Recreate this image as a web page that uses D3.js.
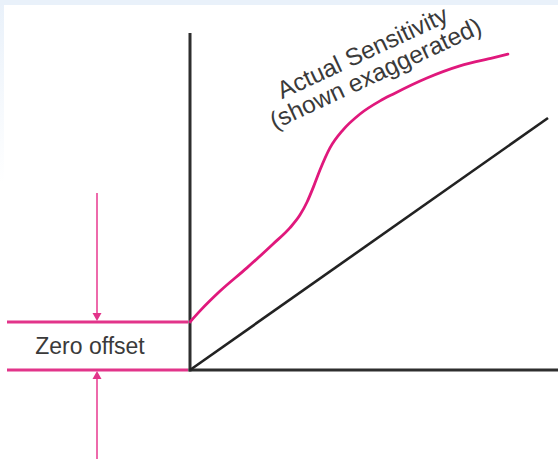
<!DOCTYPE html>
<html>
<head>
<script src="https://d3js.org/d3.v7.min.js"></script>
<style>
  body { margin: 0; background: #fff; }
  svg text { font-family: "Liberation Sans", Arial, sans-serif; fill: #3a3a3a; }
</style>
</head>
<body>
<div id="chart"></div>
<script>
// ---- data (abstract units, 0..100 on each axis) ----
var curveX = [0, 2.8, 8.4, 15.9, 23.2, 27.9, 30.7, 32.7, 34.6, 36.3, 39.1, 42.7, 47.5, 53.1, 56.7, 66.2, 75.4, 84.6, 88.8];
var curveY = [14.3, 17.6, 23.5, 30.4, 37.5, 42.3, 46.1, 50.0, 54.8, 59.5, 66.1, 71.4, 76.2, 80.1, 82.1, 86.9, 90.5, 92.9, 94.0];
var idealX = [0, 100];
var idealY = [0, 75];
var zeroOffset = 14.3;
var offsetLabel = "Zero offset";
var curveLabels = ["Actual Sensitivity", "(shown exaggerated)"];

var width = 558, height = 459;

var svg = d3.select("#chart").append("svg")
    .attr("width", width)
    .attr("height", height);

// light blue frame at top / left
var grad = svg.append("defs").append("linearGradient")
    .attr("id", "leftfade").attr("x1", 0).attr("y1", 0).attr("x2", 0).attr("y2", 1);
grad.append("stop").attr("offset", "0%").attr("stop-color", "#e9f1fa");
grad.append("stop").attr("offset", "40%").attr("stop-color", "#ffffff");
svg.append("rect").attr("x", 0).attr("y", 0).attr("width", 4).attr("height", height)
    .attr("fill", "url(#leftfade)");
svg.append("rect").attr("x", 0).attr("y", 0).attr("width", width).attr("height", 5)
    .attr("fill", "#e9f1fa");

var x = d3.scaleLinear().domain([0, 100]).range([190, 548]);
var y = d3.scaleLinear().domain([0, 100]).range([370, 34]);

////////// axes //////////
svg.append("line")
    .attr("x1", x(0)).attr("x2", x(0))
    .attr("y1", y(100.3)).attr("y2", y(0) + 1.5)
    .attr("stroke", "#2e2e2e").attr("stroke-width", 3);
svg.append("line")
    .attr("x1", x(0) - 1.5).attr("x2", width)
    .attr("y1", y(0)).attr("y2", y(0))
    .attr("stroke", "#2e2e2e").attr("stroke-width", 3);

// ideal sensitivity
var line = d3.line()
    .x(function(d) { return x(d[0]); })
    .y(function(d) { return y(d[1]); });

svg.append("path")
    .datum(d3.zip(idealX, idealY))
    .attr("d", line)
    .attr("fill", "none")
    .attr("stroke", "#222")
    .attr("stroke-width", 2.6);

// actual sensitivity
svg.append("path")
    .datum(d3.zip(curveX, curveY))
    .attr("d", line.curve(d3.curveMonotoneX))
    .attr("fill", "none")
    .attr("stroke", "#e0187c")
    .attr("stroke-width", 2.8)
    .attr("stroke-linecap", "round");

////////// zero offset marker //////////
var pink = "#e2348a";
[zeroOffset, 0].forEach(function(v) {
  svg.append("line")
      .attr("x1", 7).attr("x2", x(0) - 2)
      .attr("y1", y(v)).attr("y2", y(v))
      .attr("stroke", pink).attr("stroke-width", 3);
});

var ax = 97;
// top arrow pointing down
svg.append("line")
    .attr("x1", ax).attr("x2", ax)
    .attr("y1", 193).attr("y2", y(zeroOffset) - 6)
    .attr("stroke", "#ec5aa2").attr("stroke-width", 1.8);
svg.append("path")
    .attr("d", d3.line()([[ax - 4.5, y(zeroOffset) - 9], [ax + 4.5, y(zeroOffset) - 9], [ax, y(zeroOffset) - 1]]) + "Z")
    .attr("fill", pink);
// bottom arrow pointing up
svg.append("line")
    .attr("x1", ax).attr("x2", ax)
    .attr("y1", height).attr("y2", y(0) + 6)
    .attr("stroke", "#ec5aa2").attr("stroke-width", 1.8);
svg.append("path")
    .attr("d", d3.line()([[ax - 4.5, y(0) + 9], [ax + 4.5, y(0) + 9], [ax, y(0) + 1]]) + "Z")
    .attr("fill", pink);

svg.append("text")
    .attr("x", 90)
    .attr("y", (y(zeroOffset) + y(0)) / 2 + 8)
    .attr("text-anchor", "middle")
    .attr("font-size", 23)
    .text(offsetLabel);

////////// curve label //////////
var labelPos = [[366, 60], [379, 81]];
svg.selectAll(".curve-label")
    .data(curveLabels)
  .enter().append("text")
    .attr("class", "curve-label")
    .attr("text-anchor", "middle")
    .attr("font-size", 24.5)
    .attr("transform", function(d, i) {
      return "translate(" + labelPos[i][0] + "," + labelPos[i][1] + ") rotate(-25)";
    })
    .text(function(d) { return d; });
</script>
</body>
</html>
